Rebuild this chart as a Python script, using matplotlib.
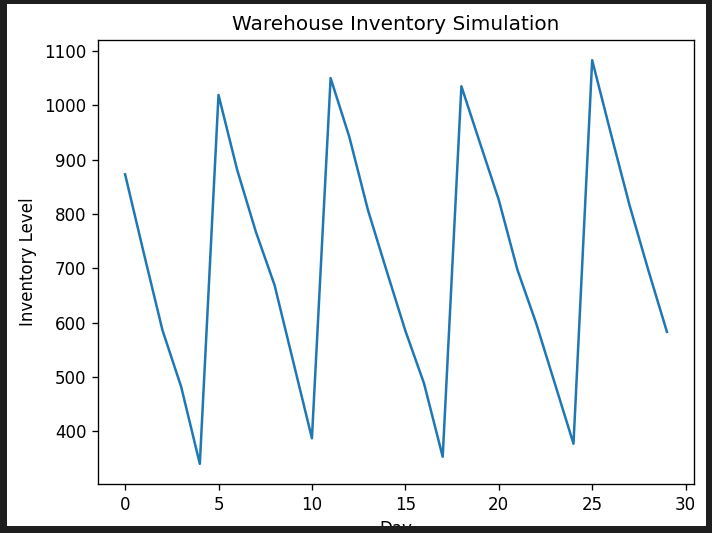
import matplotlib
matplotlib.use("Agg")
import matplotlib.pyplot as plt
from matplotlib.patches import Rectangle

# Daily inventory levels
days = list(range(30))
inventory = [873, 728, 586, 482, 340, 1019, 881, 767, 669, 528,
             387, 1050, 942, 807, 695, 585, 488, 353, 1035, 930,
             826, 697, 599, 488, 377, 1083, 948, 816, 697, 583]

W, H = 712, 533
DPI = 120  # screenshot of a 1.2x scaled notebook figure
fig = plt.figure(figsize=(W / DPI, H / DPI), dpi=DPI, facecolor="white")
ax = fig.add_axes([98 / W, 1 - 484 / H, (694 - 98) / W, (484 - 40) / H])

ax.plot(days, inventory)
ax.set_title("Warehouse Inventory Simulation")
ax.set_xlabel("Day")
ax.set_ylabel("Inventory Level")

# dark frame of the screenshot, drawn over everything (it clips the x label)
dark = "#1e1e1e"
for x0, y0, x1, y1 in [(0, 0, 7, H), (706, 0, W, H), (0, 0, W, 4), (0, 526, W, H)]:
    fig.patches.append(Rectangle((x0 / W, 1 - y1 / H), (x1 - x0) / W, (y1 - y0) / H,
                                 transform=fig.transFigure, facecolor=dark,
                                 edgecolor="none", zorder=10))

fig.savefig("out.png", dpi=DPI)
